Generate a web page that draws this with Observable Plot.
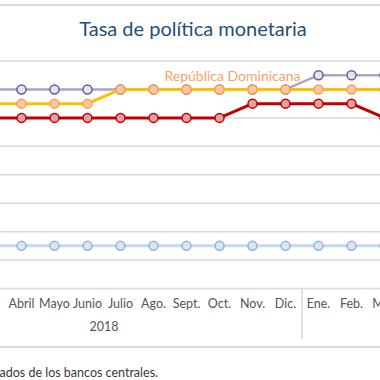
<!DOCTYPE html>
<html>
<head>
<meta charset="utf-8">
<script src="https://cdn.jsdelivr.net/npm/d3@7"></script>
<script src="https://cdn.jsdelivr.net/npm/@observablehq/plot@0.6"></script>
<style>
  html, body { margin: 0; padding: 0; background: #fff; }
  body { width: 380px; height: 380px; overflow: hidden; position: relative; font-family: Lato, "Open Sans", sans-serif; }
  #topRule { position: absolute; top: 4px; left: 0; width: 380px; height: 2px; background: #dcdcdc; }
  #bottomRule { position: absolute; top: 346px; left: 0; width: 380px; height: 2px; background: #dcdcdc; }
  #title { position: absolute; top: 17px; left: 3px; width: 380px; text-align: center; font-size: 20px; line-height: 23px; color: #1f4e79; }
  #chart { position: absolute; top: 0; left: 0; }
  #caption { position: absolute; top: 365px; right: 222px; white-space: nowrap; font-size: 12.5px; line-height: 15px; color: #3a3a3a; }
</style>
</head>
<body>
<div id="topRule"></div>
<div id="title">Tasa de política monetaria</div>
<div id="chart"></div>
<div id="bottomRule"></div>
<div id="caption">Fuente: elaborado con datos publicados de los bancos centrales.</div>
<script>
// Months from Ene. 2018 to Mar. 2019 (index 0..14)
const monthLabels = ["Ene.", "Feb.", "Mar.", "Abril", "Mayo", "Junio", "Julio", "Ago.", "Sept.", "Oct.", "Nov.", "Dic.", "Ene.", "Feb.", "Mar."];
const years = ["2018"];
const yearFirstMonth = [0];
const yearLastMonth = [11];
const firstDataMonth = 2; // series values start at Mar. 2018
const yTicks = [2, 2.5, 3, 3.5, 4, 4.5, 5, 5.5, 6];

// Series values, Mar. 2018 .. Mar. 2019
const purpleSeries = [5.5, 5.5, 5.5, 5.5, 5.5, 5.5, 5.5, 5.5, 5.5, 5.5, 5.75, 5.75, 5.75];
const republicaDominicana = [5.25, 5.25, 5.25, 5.25, 5.5, 5.5, 5.5, 5.5, 5.5, 5.5, 5.5, 5.5, 5.5];
const redSeries = [5.0, 5.0, 5.0, 5.0, 5.0, 5.0, 5.0, 5.0, 5.25, 5.25, 5.25, 5.25, 5.0];
const blueSeries = [2.75, 2.75, 2.75, 2.75, 2.75, 2.75, 2.75, 2.75, 2.75, 2.75, 2.75, 2.75, 2.75];
const labelMonth = 9; // "República Dominicana" label anchored near Oct.

const rows = vals => vals.map((v, k) => ({i: firstDataMonth + k, v}));
const yearRows = years.map((y, k) => ({year: y, mid: (yearFirstMonth[k] + yearLastMonth[k]) / 2, end: yearLastMonth[k] + 0.5}));
const visibleTicks = d3.range(3, monthLabels.length);

function series(vals, lineColor, lineWidth, dotFill, dotStroke) {
  const data = rows(vals);
  return [
    Plot.line(data, {x: "i", y: "v", stroke: lineColor, strokeWidth: lineWidth}),
    Plot.dot(data, {x: "i", y: "v", r: 4.5, fill: dotFill, stroke: dotStroke, strokeWidth: 1.5})
  ];
}

const chart = Plot.plot({
  width: 380,
  height: 380,
  marginTop: 60.5,
  marginBottom: 92,
  marginLeft: 0,
  marginRight: 0,
  style: {fontFamily: "Lato, 'Open Sans', sans-serif", background: "transparent", overflow: "hidden"},
  x: {type: "linear", domain: [0, 14], range: [-78, 384]},
  y: {domain: [2, 6], axis: null},
  marks: [
    Plot.ruleY(yTicks, {stroke: "#d9d9d9", strokeWidth: 1.5}),
    Plot.ruleX(yearRows, {x: "end", stroke: "#d9d9d9", strokeWidth: 1.5, insetTop: 227.5, insetBottom: -51}),
    Plot.axisX({ticks: visibleTicks, tickFormat: i => monthLabels[i], tickSize: 0, tickPadding: 11, fontSize: 12.5, color: "#555", label: null}),
    Plot.text(yearRows, {x: "mid", text: "year", frameAnchor: "bottom", dy: 42, fontSize: 12.5, fill: "#555"}),
    ...series(blueSeries, "#c6d9f1", 3, "#dce6f2", "#95b3d7"),
    ...series(purpleSeries, "#b3a2c7", 2.5, "#e8e2f0", "#6b5b95"),
    ...series(republicaDominicana, "#ffc000", 3, "#fcc9a0", "#f5a05a"),
    ...series(redSeries, "#c00000", 3, "#e3a0a0", "#c00000"),
    Plot.text(rows(republicaDominicana).filter(d => d.i === labelMonth), {x: "i", y: "v", text: () => "República Dominicana", dx: 13, dy: -13, fontSize: 14, fill: "#f7a463"})
  ]
});
document.getElementById("chart").appendChild(chart);
</script>
</body>
</html>
